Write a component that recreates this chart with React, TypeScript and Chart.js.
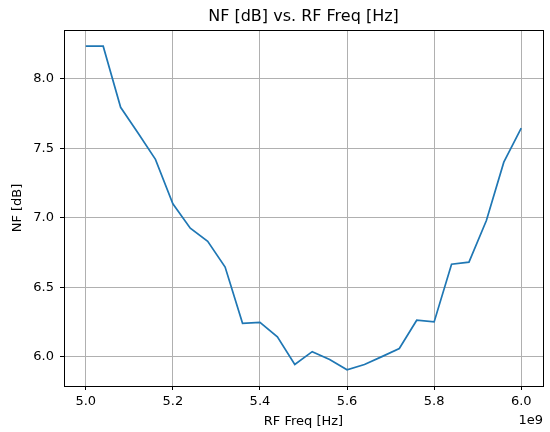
import React, { useEffect, useRef } from "react";
import { Chart, registerables } from "chart.js";

Chart.register(...registerables);

const FREQ_HZ = [
  5.0e9, 5.04e9, 5.08e9, 5.12e9, 5.16e9, 5.2e9, 5.24e9, 5.28e9, 5.32e9, 5.36e9,
  5.4e9, 5.44e9, 5.48e9, 5.52e9, 5.56e9, 5.6e9, 5.64e9, 5.68e9, 5.72e9, 5.76e9,
  5.8e9, 5.84e9, 5.88e9, 5.92e9, 5.96e9, 6.0e9,
];
const NF_DB = [
  8.235, 8.235, 7.795, 7.61, 7.42, 7.1, 6.925, 6.83, 6.645, 6.24,
  6.247, 6.143, 5.943, 6.036, 5.98, 5.905, 5.943, 6.0, 6.058, 6.262,
  6.25, 6.665, 6.68, 6.98, 7.4, 7.645,
];
const X_TICKS = [5.0e9, 5.2e9, 5.4e9, 5.6e9, 5.8e9, 6.0e9];
const Y_TICKS = [6.0, 6.5, 7.0, 7.5, 8.0];
const TITLE = "NF [dB] vs. RF Freq [Hz]";
const X_LABEL = "RF Freq [Hz]";
const Y_LABEL = "NF [dB]";
const X_OFFSET_LABEL = "1e9";

const FONT = "'DejaVu Sans', sans-serif";

export default function App() {
  const ref = useRef<HTMLCanvasElement | null>(null);

  useEffect(() => {
    if (!ref.current) return;
    const xMinD = Math.min(...FREQ_HZ);
    const xMaxD = Math.max(...FREQ_HZ);
    const yMinD = Math.min(...NF_DB);
    const yMaxD = Math.max(...NF_DB);
    const xPad = (xMaxD - xMinD) * 0.05;
    const yPad = (yMaxD - yMinD) * 0.05;

    const textPlugin = {
      id: "mplText",
      afterDraw(chart: any) {
        const { ctx, chartArea } = chart;
        const { left, right, top, bottom } = chartArea;
        ctx.save();
        ctx.strokeStyle = "#000";
        ctx.lineWidth = 1;
        ctx.strokeRect(Math.round(left) + 0.5, Math.round(top) + 0.5, Math.round(right - left), Math.round(bottom - top));
        ctx.fillStyle = "#000";
        ctx.textAlign = "center";
        ctx.textBaseline = "middle";
        ctx.font = `16px ${FONT}`;
        ctx.fillText(TITLE, (left + right) / 2, 17);
        ctx.font = `13px ${FONT}`;
        ctx.fillText(X_LABEL, (left + right) / 2, 422);
        ctx.textAlign = "right";
        ctx.fillText(X_OFFSET_LABEL, right, 421);
        ctx.translate(18, (top + bottom) / 2);
        ctx.rotate(-Math.PI / 2);
        ctx.textAlign = "center";
        ctx.fillText(Y_LABEL, 0, 0);
        ctx.restore();
      },
    };

    const chart = new Chart(ref.current, {
      type: "line",
      data: {
        datasets: [
          {
            data: FREQ_HZ.map((f, i) => ({ x: f, y: NF_DB[i] })),
            borderColor: "#1f77b4",
            borderWidth: 1.7,
            pointRadius: 0,
            tension: 0,
            fill: false,
          },
        ],
      },
      options: {
        responsive: false,
        animation: false,
        devicePixelRatio: 1,
        layout: { padding: { top: 30, right: 7, left: 0, bottom: 0 } },
        plugins: {
          legend: { display: false },
          title: { display: false },
          tooltip: { enabled: false },
        },
        scales: {
          x: {
            type: "linear",
            min: xMinD - xPad,
            max: xMaxD + xPad,
            afterBuildTicks: (scale: any) => {
              scale.ticks = X_TICKS.map((v) => ({ value: v }));
            },
            afterFit: (scale: any) => {
              scale.height = 46;
            },
            ticks: {
              callback: (v: any) => (Number(v) / 1e9).toFixed(1),
              font: { family: FONT, size: 13 },
              color: "#000",
              padding: 4,
              maxRotation: 0,
              autoSkip: false,
            },
            grid: {
              color: "#b0b0b0",
              lineWidth: 1,
              tickColor: "#000",
              tickLength: 4,
              drawTicks: true,
            },
            border: { display: true, color: "#000", width: 1 },
          },
          y: {
            type: "linear",
            min: yMinD - yPad,
            max: yMaxD + yPad,
            afterBuildTicks: (scale: any) => {
              scale.ticks = Y_TICKS.map((v) => ({ value: v }));
            },
            afterFit: (scale: any) => {
              scale.width = 64;
            },
            ticks: {
              callback: (v: any) => Number(v).toFixed(1),
              font: { family: FONT, size: 13 },
              color: "#000",
              padding: 6,
              autoSkip: false,
            },
            grid: {
              color: "#b0b0b0",
              lineWidth: 1,
              tickColor: "#000",
              tickLength: 4,
              drawTicks: true,
            },
            border: { display: true, color: "#000", width: 1 },
          },
        },
      },
      plugins: [textPlugin],
    });
    return () => chart.destroy();
  }, []);

  return (
    <div style={{ position: "fixed", left: 0, top: 0, width: 550, height: 432, background: "#fff" }}>
      <canvas ref={ref} width={550} height={432} />
    </div>
  );
}
